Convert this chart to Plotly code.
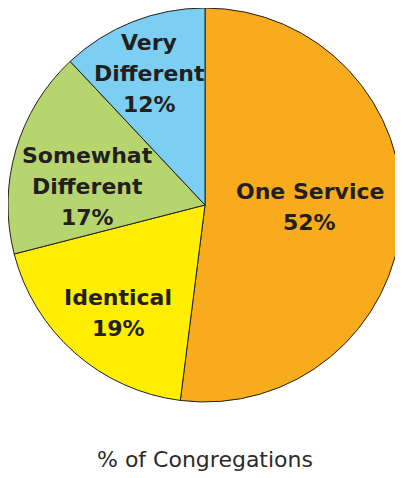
import plotly.graph_objects as go

categories = ["One Service", "Identical", "Somewhat<br>Different", "Very<br>Different"]
shares = [52, 19, 17, 12]
slice_colors = ["#F8AB1C", "#FFEE00", "#B6D56F", "#7CCFF3"]

# label anchor spots (paper coords), hand-placed like the original
label_x = [0.766, 0.280, 0.203, 0.358]
label_y = [0.494, 0.226, 0.548, 0.834]

fig = go.Figure(go.Pie(
    labels=categories,
    values=shares,
    textinfo="none",
    sort=False,
    direction="clockwise",
    rotation=0,
    marker=dict(colors=slice_colors, line=dict(color="#231F20", width=1)),
    hoverinfo="label+percent",
    showlegend=False,
))

# one annotation per line so the line gap can be wider than plotly's default
line_gap = 31
for c, v, x, y in zip(categories, shares, label_x, label_y):
    lines = c.split("<br>") + [f"{v}%"]
    n = len(lines)
    for i, ln in enumerate(lines):
        fig.add_annotation(
            text=f"<b>{ln}</b>",
            x=x, y=y, xref="paper", yref="paper",
            xanchor="center", yanchor="middle",
            yshift=((n - 1) / 2 - i) * line_gap,
            showarrow=False,
            font=dict(family="DejaVu Sans", size=22, color="#231F20"),
        )

fig.add_annotation(
    text="% of Congregations",
    x=0.5, y=-0.147, xref="paper", yref="paper",
    xanchor="center", yanchor="middle",
    showarrow=False,
    font=dict(family="DejaVu Sans", size=22, color="#2B2B2B"),
)

# body has 8px margin, so shrink the figure to fit the window
fig.update_layout(
    width=395, height=470,
    margin=dict(l=0, r=1, t=0, b=76),
    paper_bgcolor="white",
    plot_bgcolor="white",
)

fig.write_html("out.html")
